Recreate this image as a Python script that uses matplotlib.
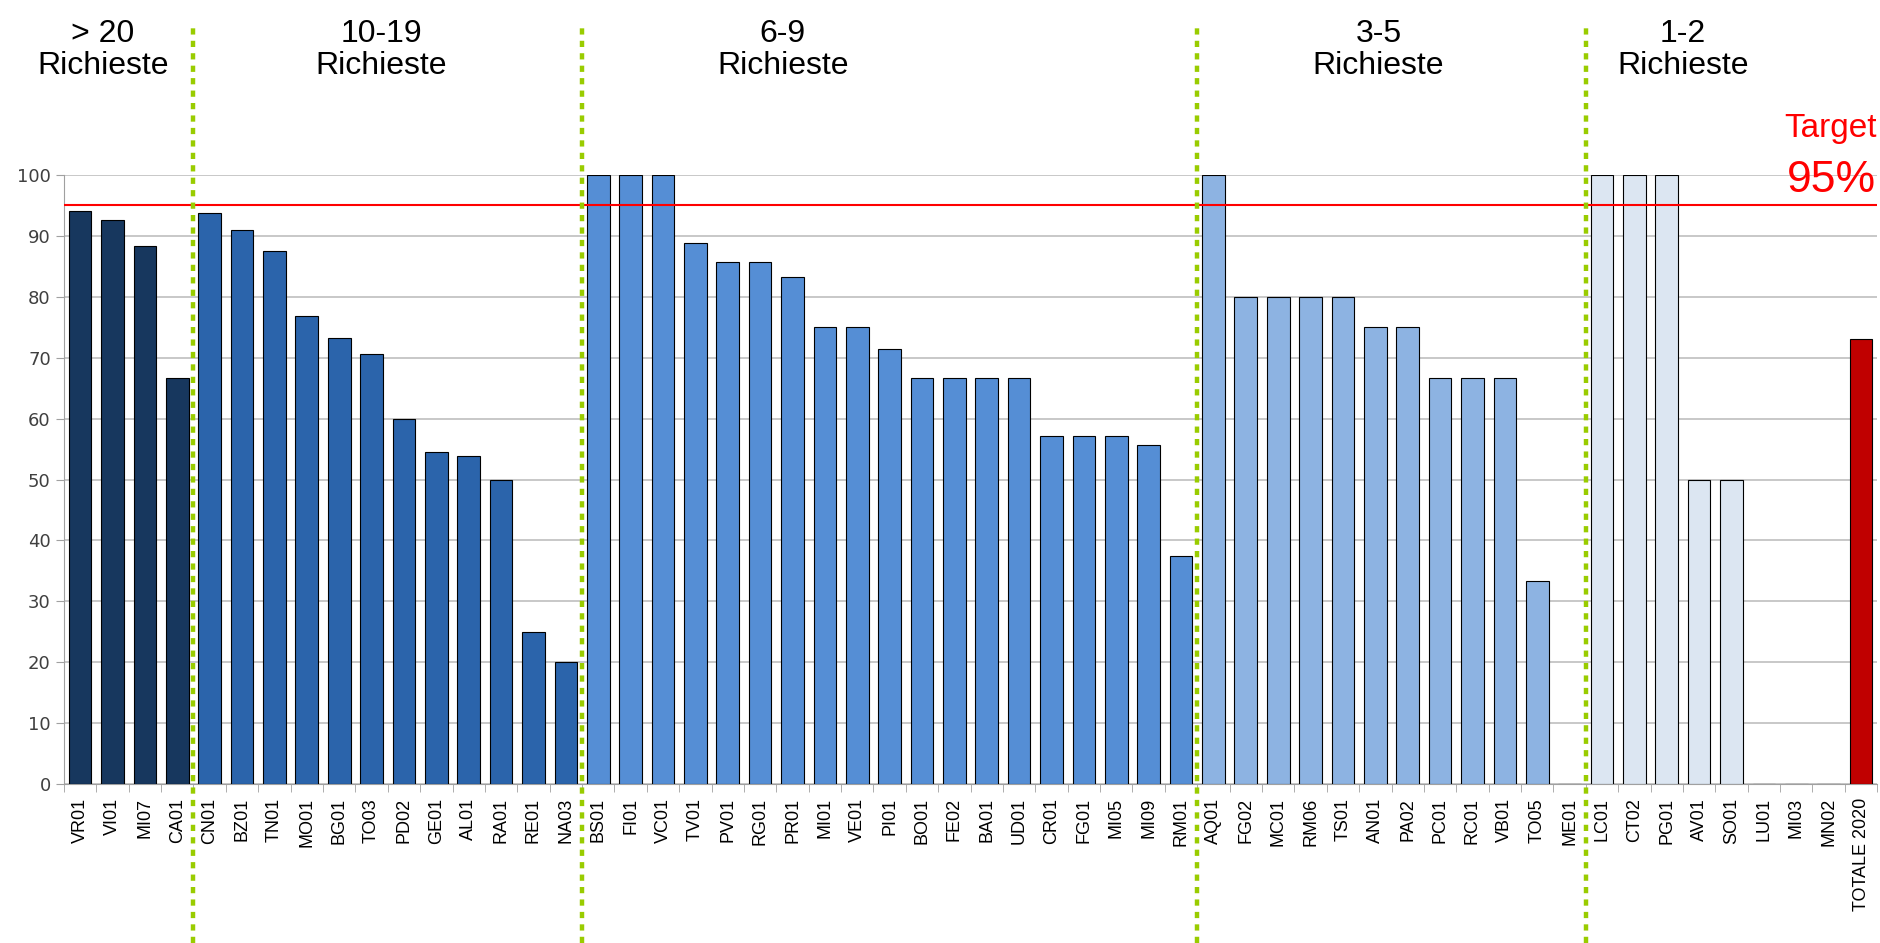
from matplotlib import pyplot as plt
from matplotlib.transforms import blended_transform_factory
import numpy as np

plt.rcParams['font.family'] = ['Liberation Sans', 'DejaVu Sans']

# Dati per gruppo di richieste
gruppo_20 = ['VR01', 'VI01', 'MI07', 'CA01']
valori_20 = [94.1, 92.6, 88.4, 66.7]

gruppo_10_19 = ['CN01', 'BZ01', 'TN01', 'MO01', 'BG01', 'TO03', 'PD02', 'GE01',
                'AL01', 'RA01', 'RE01', 'NA03']
valori_10_19 = [93.8, 90.9, 87.5, 76.9, 73.3, 70.6, 60.0, 54.5, 53.8, 50.0, 25.0, 20.0]

gruppo_6_9 = ['BS01', 'FI01', 'VC01', 'TV01', 'PV01', 'RG01', 'PR01', 'MI01', 'VE01',
              'PI01', 'BO01', 'FE02', 'BA01', 'UD01', 'CR01', 'FG01', 'MI05', 'MI09', 'RM01']
valori_6_9 = [100, 100, 100, 88.9, 85.7, 85.7, 83.3, 75.0, 75.0, 71.4, 66.7, 66.7,
              66.7, 66.7, 57.1, 57.1, 57.1, 55.6, 37.5]

gruppo_3_5 = ['AQ01', 'FG02', 'MC01', 'RM06', 'TS01', 'AN01', 'PA02', 'PC01', 'RC01',
              'VB01', 'TO05', 'ME01']
valori_3_5 = [100, 80, 80, 80, 80, 75, 75, 66.7, 66.7, 66.7, 33.3, 0]

gruppo_1_2 = ['LC01', 'CT02', 'PG01', 'AV01', 'SO01', 'LU01', 'MI03', 'MN02']
valori_1_2 = [100, 100, 100, 50, 50, 0, 0, 0]

totale_label = ['TOTALE 2020']
totale_valore = [73.0]

target = 95

gruppi = [
    ('> 20', gruppo_20, valori_20, '#17375E'),
    ('10-19', gruppo_10_19, valori_10_19, '#2B64AB'),
    ('6-9', gruppo_6_9, valori_6_9, '#558ED5'),
    ('3-5', gruppo_3_5, valori_3_5, '#8DB3E2'),
    ('1-2', gruppo_1_2, valori_1_2, '#DCE6F2'),
    (None, totale_label, totale_valore, '#C00000'),
]
# posizione orizzontale dei titoli (in unità di categoria)
pos_titoli = [0.7, 9.3, 21.7, 40.1, 49.5]

fig = plt.figure(figsize=(18.81, 9.43), dpi=100)
ax = fig.add_axes([0.034, 0.1686, 0.964, 0.6458])

etichette = []
inizio = 0
confini = []
for titolo, nomi, valori, colore in gruppi:
    x = np.arange(inizio, inizio + len(nomi))
    ax.bar(x, valori, width=0.7, color=colore, edgecolor='black', linewidth=0.8, zorder=3)
    etichette += nomi
    inizio += len(nomi)
    confini.append(inizio - 0.5)

n = len(etichette)
ax.set_xlim(-0.5, n - 0.5)
ax.set_ylim(0, 100)
ax.set_yticks(np.arange(0, 101, 10))
ax.set_xticks(np.arange(n))
ax.set_xticklabels(etichette, rotation=90, fontsize=13)
ax.set_xticks(np.arange(-0.5, n, 1), minor=True)
ax.tick_params(axis='x', which='major', length=0, pad=10)
ax.tick_params(axis='x', which='minor', length=6, color='#A0A0A0')
ax.tick_params(axis='y', length=6, color='#A0A0A0', labelsize=13, labelcolor='#404040')
for lab in ax.get_yticklabels():
    lab.set_family('DejaVu Sans')
ax.grid(axis='y', color='#BFBFBF', linewidth=1.2, zorder=0)
for s in ['top', 'right']:
    ax.spines[s].set_visible(False)
ax.spines['left'].set_color('#A0A0A0')
ax.spines['bottom'].set_color('#A0A0A0')

# linea target
ax.axhline(target, color='#FF0000', linewidth=1.5, zorder=4)

# separatori verdi tra i gruppi
trans = blended_transform_factory(ax.transData, fig.transFigure)
for c in confini[:4]:
    ax.plot([c, c], [0.0, 0.97], transform=trans, color='#99CC00', linewidth=3.2,
            dashes=(1.4, 1.4), clip_on=False, zorder=5)

# titoli dei gruppi
for (titolo, _, _, _), px in zip(gruppi[:5], pos_titoli):
    ax.text(px, 0.955, titolo, transform=trans, ha='center', va='baseline', fontsize=23)
    ax.text(px, 0.9215, 'Richieste', transform=trans, ha='center', va='baseline', fontsize=23)

fig.text(0.9975, 0.855, 'Target', color='#FF0000', fontsize=24, ha='right', va='baseline')
fig.text(0.9975, 0.796, '95%', color='#FF0000', fontsize=32, ha='right', va='baseline')

plt.savefig('out.png', dpi=100)
